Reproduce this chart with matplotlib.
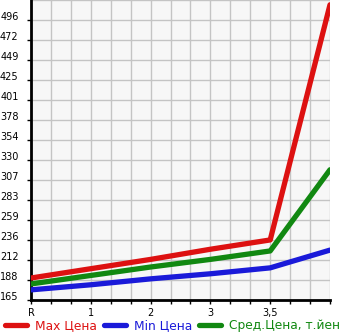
import matplotlib
matplotlib.use("Agg")
import matplotlib.pyplot as plt
from matplotlib.lines import Line2D

categories = ["R", "1", "2", "3", "3,5", ""]
max_price = [191, 202, 213, 225, 236, 514]
min_price = [177, 183, 190, 196, 203, 224]
avg_price = [184, 194, 204, 213, 223, 319]
ytick_labels = ["165", "188", "212", "236", "259", "283", "307", "330",
                "354", "378", "401", "425", "449", "472", "496"]
series_names = ["Max Цена", "Min Цена", "Сред.Цена, т.йен"]

colors = ["#dd1111", "#1a1ad9", "#118811"]

W, H = 345, 335
fig = plt.figure(figsize=(W / 100, H / 100), dpi=100)
ax = fig.add_axes([31 / W, (H - 300) / H, 299 / W, 300 / H])
ax.set_facecolor("#f7f7f7")

x = list(range(len(categories)))
for vals, c in zip([max_price, min_price, avg_price], colors):
    ax.plot(x, vals, color=c, lw=3.8, solid_capstyle="round", zorder=3)

ymin = 165.0
ymax_tick = 496.0
step = (ymax_tick - ymin) / 14
ax.set_ylim(ymin, ymin + step * 15)
ax.set_xlim(0, 5)

yt = [ymin + step * i for i in range(15)]
ax.set_yticks(yt)
ax.set_yticklabels(ytick_labels, fontsize=7, va="baseline")
ax.set_xticks(x)
ax.set_xticklabels(categories, fontsize=7)
ax.set_xticks([i / 3 for i in range(16)], minor=True)
ax.set_yticks([ymin + step * i for i in range(16)], minor=True)

ax.grid(True, which="both", color="#c4c4c4", lw=1)
ax.set_axisbelow(True)
ax.tick_params(axis="y", which="major", length=3, width=1, pad=6, colors="black")
ax.tick_params(axis="y", which="minor", length=0)
ax.tick_params(axis="x", which="both", length=3, width=1, pad=3, colors="black")
for s in ["top", "right"]:
    ax.spines[s].set_visible(False)
ax.spines["left"].set_linewidth(2)
ax.spines["bottom"].set_linewidth(2)

handles = [Line2D([0], [0], color=c, lw=3.8, solid_capstyle="round") for c in colors]
leg = fig.legend(handles, series_names, loc="center", bbox_to_anchor=(0.5, 1 - 326 / H),
                 ncol=3, frameon=False, fontsize=8.8, handlelength=1.8,
                 handletextpad=0.65, columnspacing=0.55, labelcolor="linecolor",
                 borderaxespad=0, borderpad=0)

fig.savefig("out.png", dpi=100)
